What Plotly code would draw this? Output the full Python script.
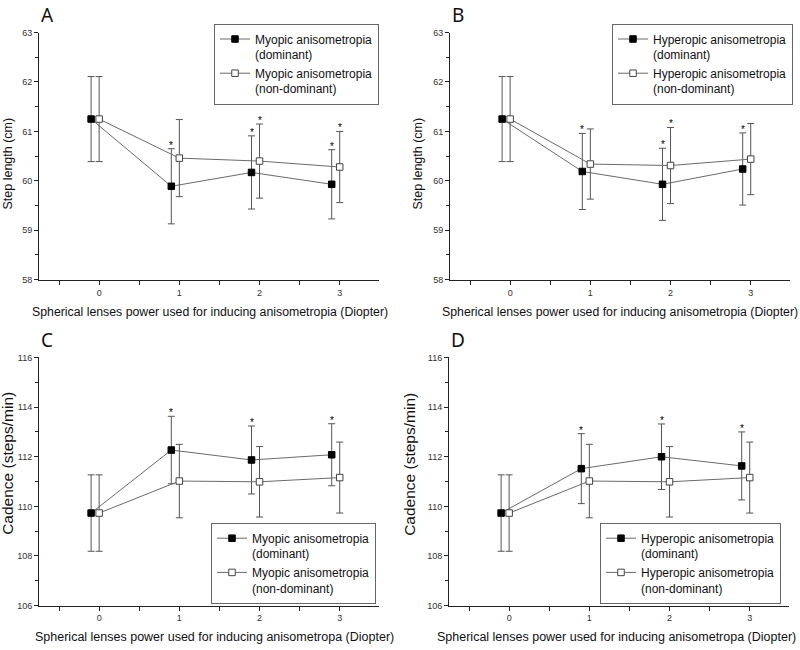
import plotly.graph_objects as go

# ---------------- data ----------------
doses = [0, 1, 2, 3]
dose_labels = ["0", "1", "2", "3"]

A_dom = [61.25, 59.89, 60.17, 59.93]
A_dom_sd = [0.86, 0.76, 0.74, 0.70]
A_nd = [61.25, 60.46, 60.40, 60.28]
A_nd_sd = [0.86, 0.78, 0.75, 0.72]
A_dom_sig = [False, True, True, True]
A_nd_sig = [False, False, True, True]

B_dom = [61.25, 60.19, 59.93, 60.24]
B_dom_sd = [0.86, 0.77, 0.73, 0.73]
B_nd = [61.25, 60.34, 60.31, 60.44]
B_nd_sd = [0.86, 0.71, 0.77, 0.72]
B_dom_sig = [False, True, True, True]
B_nd_sig = [False, False, True, False]

C_dom = [109.73, 112.27, 111.87, 112.08]
C_dom_sd = [1.54, 1.36, 1.37, 1.25]
C_nd = [109.73, 111.02, 110.99, 111.16]
C_nd_sd = [1.54, 1.48, 1.42, 1.43]
C_dom_sig = [False, True, True, True]
C_nd_sig = [False, False, False, False]

D_dom = [109.73, 111.52, 112.00, 111.63]
D_dom_sd = [1.54, 1.41, 1.32, 1.37]
D_nd = [109.73, 111.02, 110.99, 111.16]
D_nd_sd = [1.54, 1.48, 1.42, 1.43]
D_dom_sig = [False, True, True, True]
D_nd_sig = [False, False, False, False]

names = {
    "A": ("Myopic anisometropia<br>(dominant)", "Myopic anisometropia<br>(non-dominant)"),
    "B": ("Hyperopic anisometropia<br>(dominant)", "Hyperopic anisometropia<br>(non-dominant)"),
    "C": ("Myopic anisometropia<br>(dominant)", "Myopic anisometropia<br>(non-dominant)"),
    "D": ("Hyperopic anisometropia<br>(dominant)", "Hyperopic anisometropia<br>(non-dominant)"),
}
xtitle_top = "Spherical lenses power used for inducing anisometropia (Diopter)"
xtitle_bot = "Spherical lenses power used for inducing anisometropa (Diopter)"
ytitle_top = "Step length (cm)"
ytitle_bot = "Cadence (steps/min)"

# ---------------- layout helpers ----------------
W, H = 800, 650
def px(x):
    return x / W
def py(y):
    return 1 - y / H

FONT = "Arial, 'Liberation Sans', sans-serif"
LINE = "#6a6a6a"
ERR = "#555555"
DODGE = 0.1

panels = {
    "A": dict(ax="", x0=39, x1=379, y0=28, y1=279, dom=A_dom, dsd=A_dom_sd, nd=A_nd, nsd=A_nd_sd,
              dsig=A_dom_sig, nsig=A_nd_sig, leg=(214, 19), legid="legend"),
    "B": dict(ax="2", x0=450, x1=790, y0=28, y1=279, dom=B_dom, dsd=B_dom_sd, nd=B_nd, nsd=B_nd_sd,
              dsig=B_dom_sig, nsig=B_nd_sig, leg=(612, 19), legid="legend2"),
    "C": dict(ax="3", x0=39, x1=379, y0=358, y1=610, dom=C_dom, dsd=C_dom_sd, nd=C_nd, nsd=C_nd_sd,
              dsig=C_dom_sig, nsig=C_nd_sig, leg=(211, 526), legid="legend3"),
    "D": dict(ax="4", x0=449, x1=789, y0=358, y1=610, dom=D_dom, dsd=D_dom_sd, nd=D_nd, nsd=D_nd_sd,
              dsig=D_dom_sig, nsig=D_nd_sig, leg=(600, 526), legid="legend4"),
}

fig = go.Figure()
annotations = []
layout = {}

for key, p in panels.items():
    xa = "x" + p["ax"]
    ya = "y" + p["ax"]
    xdom = [d - DODGE for d in doses]
    nm_dom, nm_nd = names[key]
    fig.add_trace(go.Scatter(
        x=xdom, y=p["dom"], mode="lines+markers", name=nm_dom,
        xaxis=xa, yaxis=ya, legend=p["legid"],
        line=dict(color=LINE, width=1),
        marker=dict(symbol="square", size=6.5, color="black", line=dict(color="black", width=1)),
        error_y=dict(type="data", array=p["dsd"], visible=True, color=ERR, thickness=1, width=3.5),
    ))
    fig.add_trace(go.Scatter(
        x=doses, y=p["nd"], mode="lines+markers", name=nm_nd,
        xaxis=xa, yaxis=ya, legend=p["legid"],
        line=dict(color=LINE, width=1),
        marker=dict(symbol="square", size=6.5, color="white", line=dict(color="#444444", width=1)),
        error_y=dict(type="data", array=p["nsd"], visible=True, color=ERR, thickness=1, width=3.5),
    ))
    # significance stars
    for xs, vals, sds, sig in ((xdom, p["dom"], p["dsd"], p["dsig"]), (doses, p["nd"], p["nsd"], p["nsig"])):
        for xv, v, s, g in zip(xs, vals, sds, sig):
            if g:
                annotations.append(dict(x=xv, y=v + s, xref=xa, yref=ya, text="*", showarrow=False,
                                        yanchor="bottom", yshift=-4,
                                        font=dict(family=FONT, size=10, color="#000")))

    top = key in "AB"
    xaxis_name = "xaxis" + p["ax"]
    yaxis_name = "yaxis" + p["ax"]
    layout[xaxis_name] = dict(
        domain=[px(p["x0"]), px(p["x1"])], anchor=ya, range=[-0.75, 3.49],
        tickmode="array", tickvals=doses, ticktext=dose_labels,
        ticks="outside", ticklen=4, tickwidth=1, tickcolor="#222",
        minor=dict(tickmode="array", tickvals=[-0.5, 0.5, 1.5, 2.5], ticks="outside", ticklen=4,
                   tickwidth=1, tickcolor="#222"),
        showline=True, linecolor="#222", linewidth=1, showgrid=False, zeroline=False,
        tickfont=dict(family=FONT, size=9, color="#333"),
    )
    if top:
        yr, yd, ym = [58, 63], 1, 0.5
    else:
        yr, yd, ym = [106, 116], 2, 1
    layout[yaxis_name] = dict(
        domain=[py(p["y1"]), py(p["y0"])], anchor=xa, range=yr,
        tickmode="linear", tick0=yr[0], dtick=yd,
        ticks="outside", ticklen=4, tickwidth=1, tickcolor="#222",
        minor=dict(dtick=ym, ticks="outside", ticklen=3, tickwidth=1, tickcolor="#222"),
        showline=True, linecolor="#222", linewidth=1, showgrid=False, zeroline=False,
        tickfont=dict(family=FONT, size=9, color="#333"),
    )
    lx, ly = p["leg"]
    layout[p["legid"]] = dict(
        x=px(lx), y=py(ly), xanchor="left", yanchor="top",
        bgcolor="white", bordercolor="#666", borderwidth=1,
        font=dict(family=FONT, size=12, color="#111"),
        valign="top", tracegroupgap=0, itemwidth=30,
    )

# panel letters
for letter, (x, y) in {"A": (47, 10), "B": (458, 10), "C": (47, 340), "D": (458, 340)}.items():
    annotations.append(dict(x=px(x), y=py(y), xref="paper", yref="paper", text=letter, showarrow=False,
                            xanchor="center", yanchor="middle",
                            font=dict(family="'Noto Sans', sans-serif", size=19, color="#111")))

# x-axis titles
for (x, y, t, s) in [(210, 312, xtitle_top, 12.3), (620, 312, xtitle_top, 12.3),
                     (214, 642, xtitle_bot, 12.5), (616, 642, xtitle_bot, 12.5)]:
    annotations.append(dict(x=px(x), y=py(y), xref="paper", yref="paper", text=t, showarrow=False,
                            xanchor="center", yanchor="middle",
                            font=dict(family=FONT, size=s, color="#111")))

# y-axis titles
for (x, y, t, s) in [(8, 161, ytitle_top, 12.5), (418, 161, ytitle_top, 12.5),
                     (8, 466, ytitle_bot, 15.5), (410, 466, ytitle_bot, 15.5)]:
    annotations.append(dict(x=px(x), y=py(y), xref="paper", yref="paper", text=t, showarrow=False,
                            xanchor="center", yanchor="middle", textangle=-90,
                            font=dict(family=FONT, size=s, color="#111")))

fig.update_layout(
    width=W, height=H, margin=dict(l=0, r=0, t=0, b=0),
    paper_bgcolor="white", plot_bgcolor="white",
    showlegend=True, annotations=annotations, **layout,
)

fig.write_html("out.html")
